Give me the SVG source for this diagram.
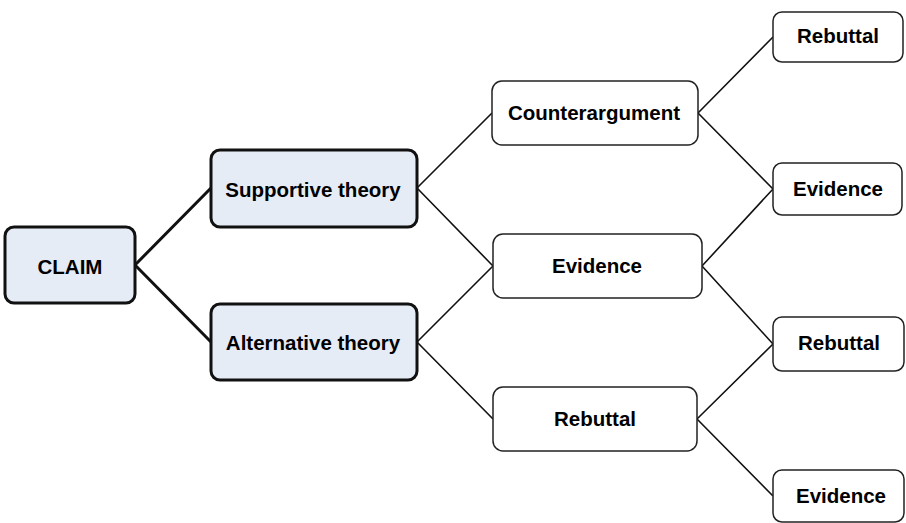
<svg xmlns="http://www.w3.org/2000/svg" width="906" height="523" viewBox="0 0 906 523">
<style>
.b{fill:#e6ecf6;stroke:#111;stroke-width:3}
.w{fill:#fff;stroke:#222;stroke-width:1.5}
.t{font-family:"Liberation Sans",Arial,sans-serif;font-weight:bold;font-size:20.5px;fill:#000;text-anchor:middle;dominant-baseline:central}
.c1{stroke:#111;stroke-width:3;fill:none}
.c2{stroke:#111;stroke-width:1.6;fill:none}
</style>
<rect width="906" height="523" fill="#fff"/>
<g id="connectors">
<path class="c1" d="M135 265L211 188M135 265L211 342"/>
<path class="c2" d="M417 188L492 113M417 188L493 266M417 342L493 266M417 342L493 419"/>
<path class="c2" d="M698 113L773 37M698 113L773 189M702 266L773 189M702 266L773 344M697 419L773 344M697 419L773 496"/>
</g>
<g id="claim"><rect class="b" x="5" y="227" width="130" height="76" rx="9"/><text class="t" x="70" y="266">CLAIM</text></g>
<g id="supportive"><rect class="b" x="211" y="150" width="206" height="77" rx="9"/><text class="t" x="313" y="189">Supportive theory</text></g>
<g id="alternative"><rect class="b" x="211" y="304" width="206" height="76" rx="9"/><text class="t" x="313" y="342">Alternative theory</text></g>
<g id="counterargument"><rect class="w" x="492" y="81" width="206" height="64" rx="10"/><text class="t" x="594" y="112">Counterargument</text></g>
<g id="evidence-mid"><rect class="w" x="493" y="234" width="209" height="64" rx="10"/><text class="t" x="597" y="265">Evidence</text></g>
<g id="rebuttal-mid"><rect class="w" x="493" y="387" width="204" height="64" rx="10"/><text class="t" x="595" y="418">Rebuttal</text></g>
<g id="rebuttal-1"><rect class="w" x="773" y="12" width="130" height="50" rx="9"/><text class="t" x="838" y="35">Rebuttal</text></g>
<g id="evidence-1"><rect class="w" x="773" y="163" width="129" height="52" rx="9"/><text class="t" x="838" y="188">Evidence</text></g>
<g id="rebuttal-2"><rect class="w" x="773" y="317" width="131" height="54" rx="9"/><text class="t" x="839" y="342">Rebuttal</text></g>
<g id="evidence-2"><rect class="w" x="773" y="470" width="131" height="52" rx="9"/><text class="t" x="841" y="495">Evidence</text></g>
</svg>
